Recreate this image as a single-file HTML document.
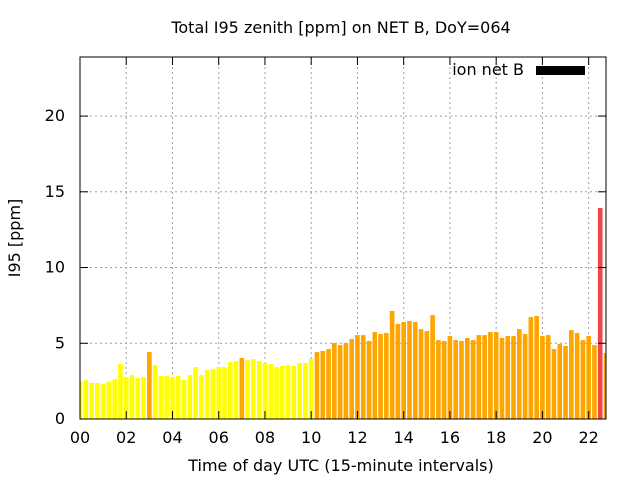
<!DOCTYPE html>
<html><head><meta charset="utf-8"><style>
body{margin:0;background:#fff;}
svg{display:block;font-family:"DejaVu Sans","Liberation Sans",sans-serif;}
</style></head><body>
<svg id="c" width="640" height="480" xmlns="http://www.w3.org/2000/svg"></svg>
<script>
const categories = [];
for (let i = 0; i < 92; i++) categories.push(i * 0.25);
const values = [2.5,2.57,2.38,2.38,2.31,2.44,2.64,3.63,2.77,2.9,2.7,2.77,4.42,3.56,2.84,2.84,2.77,2.84,2.57,2.9,3.43,2.9,3.23,3.3,3.43,3.43,3.76,3.83,4.03,3.89,
3.96,3.83,3.7,3.63,3.43,3.5,3.56,3.5,3.7,3.7,3.98,4.42,4.49,4.62,5.02,4.88,5.02,5.28,5.54,5.54,5.15,5.74,5.61,5.68,7.13,6.27,6.4,6.47,6.4,5.94,
5.81,6.86,5.21,5.15,5.48,5.21,5.15,5.35,5.21,5.54,5.54,5.74,5.74,5.35,5.48,5.48,5.94,5.61,6.73,6.8,5.48,5.54,4.62,4.95,4.82,5.87,5.68,5.21,5.48,4.88,13.93,4.36];
const yTicks = [0,5,10,15,20];
const xTicks = [0,2,4,6,8,10,12,14,16,18,20,22];
const xTickLabels = ["00","02","04","06","08","10","12","14","16","18","20","22"];

const L=80,R=606,T=57,B=419, xMax=22.75, yMax=23.9;
const X=v=>L+v/xMax*(R-L);
const Y=v=>B-v/yMax*(B-T);
const svg=document.getElementById('c');
const NS='http://www.w3.org/2000/svg';
function mk(tag,attrs,parent){const e=document.createElementNS(NS,tag);for(const k in attrs)e.setAttribute(k,attrs[k]);(parent||svg).appendChild(e);return e;}

const grid=mk('g',{});


yTicks.forEach(v=>{if(v>0)mk('line',{x1:L,x2:R,y1:Y(v),y2:Y(v),stroke:'#a0a0a0','stroke-dasharray':'2,3','stroke-width':1},grid);});
xTicks.forEach(v=>{if(v>0)mk('line',{x1:X(v),x2:X(v),y1:T,y2:B,stroke:'#a0a0a0','stroke-dasharray':'2,3','stroke-width':1},grid);});

const bars=mk('g',{});


const bw=(R-L)/xMax*0.25*0.8;
values.forEach((v,i)=>{
  const cx=X(categories[i]);
  let x0=Math.max(L,cx-bw/2), x1=Math.min(R,cx+bw/2);
  const col=v<4?'#ffff00':(v<8?'#ffa500':'#f04848');
  const r=mk('rect',{x:x0,y:Y(v),width:x1-x0,height:B-Y(v),fill:col},bars);
  
  
});

const ax=mk('g',{});


mk('rect',{x:L,y:T,width:R-L,height:B-T,fill:'none',stroke:'#000','stroke-width':1},ax);
yTicks.forEach(v=>{
  mk('line',{x1:L,x2:L+8,y1:Y(v),y2:Y(v),stroke:'#000'},ax);
  mk('line',{x1:R,x2:R-8,y1:Y(v),y2:Y(v),stroke:'#000'},ax);
  const t=mk('text',{x:L-15,y:Y(v)+5,'text-anchor':'end','font-size':16},ax);t.textContent=v;
  
  
});
xTicks.forEach((v,i)=>{
  mk('line',{x1:X(v),x2:X(v),y1:B,y2:B-8,stroke:'#000'},ax);
  mk('line',{x1:X(v),x2:X(v),y1:T,y2:T+8,stroke:'#000'},ax);
  const t=mk('text',{x:X(v),y:B+24,'text-anchor':'middle','font-size':16},ax);t.textContent=xTickLabels[i];
  
  
});
</script>
<div style="position:absolute;left:0;top:0;width:640px;height:480px;pointer-events:none">
<svg width="640" height="480" style="position:absolute;left:0;top:0">
<text x="341" y="33" text-anchor="middle" font-size="16" font-family="DejaVu Sans, sans-serif">Total I95 zenith [ppm] on NET B, DoY=064</text>
<text x="341" y="471" text-anchor="middle" font-size="16" font-family="DejaVu Sans, sans-serif">Time of day UTC (15-minute intervals)</text>
<text transform="translate(20,238) rotate(-90)" text-anchor="middle" font-size="16" font-family="DejaVu Sans, sans-serif">I95 [ppm]</text>
<g>
<text x="524" y="75" text-anchor="end" font-size="16" font-family="DejaVu Sans, sans-serif">ion net B</text>
<rect x="536" y="66" width="49" height="9" fill="#000"/>
</g>
</svg></div>
</body></html>
